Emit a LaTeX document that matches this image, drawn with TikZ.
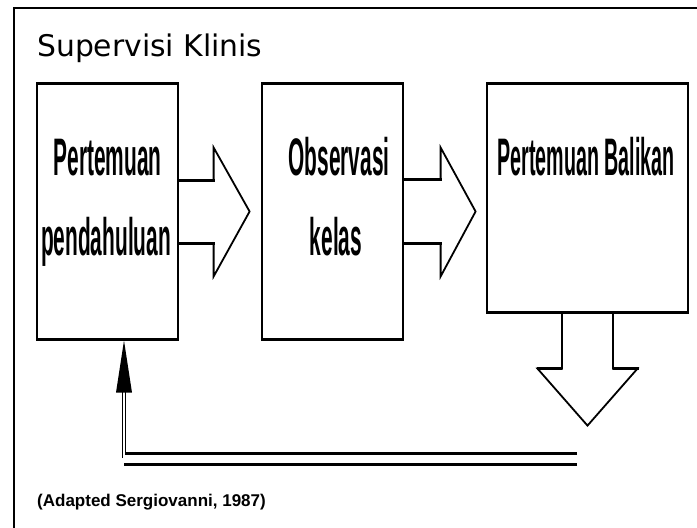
\documentclass[tikz,border=0pt]{standalone}
\usepackage{fontspec}
\setmainfont{Liberation Sans}
\newfontfamily\titlefont{DejaVu Sans}
\usetikzlibrary{calc}
\tikzset{
  stagebox/.style={draw, line width=1.2pt, minimum width=141pt, minimum height=255pt, inner sep=0pt},
  edgeline/.style={line width=2.6pt},
  blockarrow/.style={line width=1.8pt, line join=miter},
  shaftline/.style={line width=2.8pt},
  lbl/.style={anchor=base, inner sep=0pt, font=\fontsize{24}{24}\selectfont\bfseries},
}
\newcommand{\tallword}[2][0.87]{\scalebox{#1}[2.2]{#2}}
\begin{document}
\begin{tikzpicture}[x=1pt, y=-1pt]
\useasboundingbox (0,0) rectangle (697,528);
\fill[white] (0,0) rectangle (697,528);

% slide frame
\draw[line width=2pt] (14,528) -- (14,8) -- (697,8);

% title
\node[anchor=base west, inner sep=0pt, font=\titlefont\fontsize{29.8}{31}\selectfont] (title) at (37,56) {Supervisi Klinis};

% the three stages
\node[stagebox] (b1) at (107.5,211.5) {};
\node[stagebox] (b2) at (332.5,211.5) {};
\node[stagebox, minimum width=201pt, minimum height=228pt] (b3) at (587.5,198) {};
\foreach \b in {b1,b2,b3}{
  \draw[edgeline] (\b.north west) -- (\b.north east);
  \draw[edgeline] (\b.south west) -- (\b.south east);
}

% stage labels
\node[lbl] (t1a) at (107.5,175) {\tallword{Pertemuan}};
\node[lbl] (t1b) at (106,255) {\tallword{pendahuluan}};
\node[lbl] (t2a) at (339,175) {\tallword{Observasi}};
\node[lbl] (t2b) at (336,255) {\tallword{kelas}};
\node[lbl] (t3a) at (586,175) {\tallword[0.82]{Pertemuan Balikan}};

% block arrow from stage 1 to stage 2
\draw[blockarrow] ($(b1.east)+(0,-31)$) -- ++(35,0) -- ++(0,-33) -- ($(b1.east)+(71,0)$)
  -- ($(b1.east)+(35,65)$) -- ++(0,-33) -- ($(b1.east)+(0,32)$);
\draw[shaftline] ($(b1.east)+(0,-31)$) -- ++(36,0);
\draw[shaftline] ($(b1.east)+(0,32)$) -- ++(36,0);

% block arrow from stage 2 to stage 3
\draw[blockarrow] ($(b2.east)+(0,-32)$) -- ++(37,0) -- ++(0,-32) -- ($(b2.east)+(72,0)$)
  -- ($(b2.east)+(37,65)$) -- ++(0,-33) -- ($(b2.east)+(0,32)$);
\draw[shaftline] ($(b2.east)+(0,-32)$) -- ++(38,0);
\draw[shaftline] ($(b2.east)+(0,32)$) -- ++(38,0);

% block arrow pointing down out of stage 3
\draw[blockarrow] ($(b3.south)+(-25.5,0)$) -- ++(0,56) -- ++(-24.5,0) -- ($(b3.south)+(0,113)$)
  -- ($(b3.south)+(50,56)$) -- ++(-24.5,0) -- ($(b3.south)+(25.5,0)$);
\draw[shaftline] ($(b3.south)+(-51,56)$) -- ++(25.5,0);
\draw[shaftline] ($(b3.south)+(25.5,56)$) -- ++(25.5,0);

% feedback line back to stage 1
\coordinate (fbend) at (577,458);
\coordinate (fbcorner) at (124,458);
\draw[line width=3pt] ($(fbend)+(0,-5)$) -- ($(fbcorner)+(1,-5)$);
\draw[line width=3pt] ($(fbend)+(0,6)$) -- ($(fbcorner)+(0,6)$);
\draw[line width=0.9pt] ($(fbcorner)+(-1.3,0)$) -- ($(b1.south)+(15.2,52)$);
\draw[line width=0.9pt] ($(fbcorner)+(1.3,-5)$) -- ($(b1.south)+(17.8,52)$);
\fill ($(b1.south)+(16.5,1)$) -- ($(b1.south)+(8.5,53)$) -- ($(b1.south)+(24.5,53)$) -- cycle;

% source
\node[anchor=base west, inner sep=0pt, font=\fontsize{17}{18}\selectfont\bfseries] (src) at (37,506) {\scalebox{1}[1]{(Adapted Sergiovanni, 1987)}};
\end{tikzpicture}
\end{document}
